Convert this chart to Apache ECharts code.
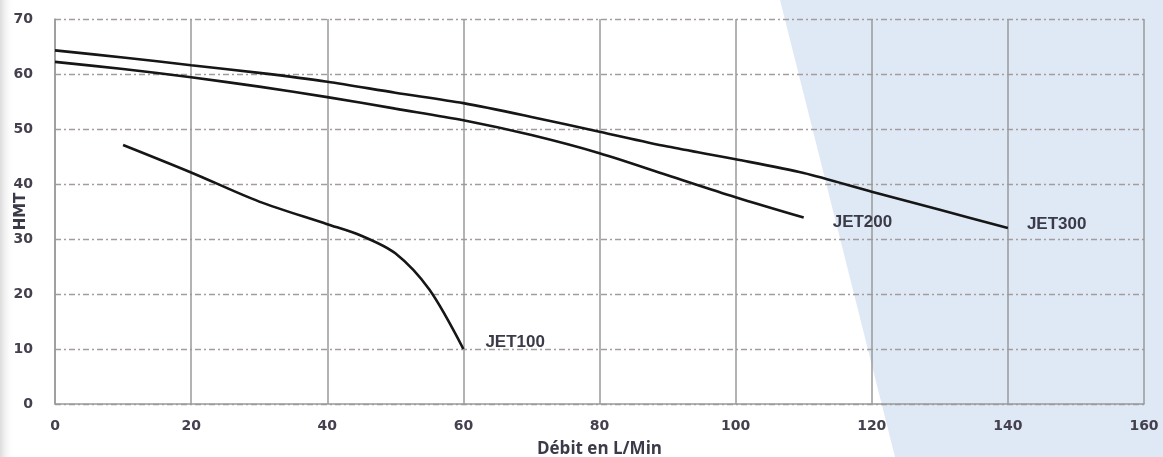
<!DOCTYPE html>
<html>
<head>
<meta charset="utf-8">
<script src="https://cdn.jsdelivr.net/npm/echarts@6/dist/echarts.min.js"></script>
<style>html,body{margin:0;padding:0;background:#fff;}#c{width:1163px;height:457px;}</style>
</head>
<body>
<div id="c"></div>
<script>
// Data
const xTicks = [0, 20, 40, 60, 80, 100, 120, 140, 160];
const yTicks = [0, 10, 20, 30, 40, 50, 60, 70];

const jet100Flow = [10, 20, 30, 40, 45, 50, 55, 60];
const jet100Head = [47.1, 42.1, 36.8, 32.7, 30.6, 27.4, 20.8, 10];

const jet200Flow = [0, 10, 20, 30, 40, 50, 60, 70, 80, 90, 100, 110];
const jet200Head = [62.2, 60.9, 59.4, 57.7, 55.8, 53.7, 51.6, 48.9, 45.6, 41.6, 37.6, 33.9];

const jet300Flow = [0, 10, 20, 30, 40, 50, 60, 70, 80, 90, 100, 110, 120, 130, 140];
const jet300Head = [64.3, 63.0, 61.6, 60.2, 58.6, 56.6, 54.7, 52.2, 49.5, 46.8, 44.5, 42.0, 38.6, 35.3, 32.0];

const seriesNames = ['JET100', 'JET200', 'JET300'];
const xAxisTitle = 'Débit en L/Min';
const yAxisTitle = 'HMT';

function pairs(xs, ys) { return xs.map((x, i) => [x, ys[i]]); }

const chart = echarts.init(document.getElementById('c'), null, { renderer: 'canvas' });

const labelStyle = { color: '#3a3a48', fontFamily: 'Liberation Sans, Arial, sans-serif', fontWeight: 'bold', fontSize: 17 };
const labelOffsets = [[22, -7], [29, 5], [19, -4]];
const allData = [pairs(jet100Flow, jet100Head), pairs(jet200Flow, jet200Head), pairs(jet300Flow, jet300Head)];

const option = {
  animation: false,
  backgroundColor: '#ffffff',
  graphic: [
    { type: 'polygon', z: -100, silent: true,
      shape: { points: [[780, 0], [1163, 0], [1163, 457], [895, 457]] },
      style: { fill: '#dfe9f5' } },
    { type: 'rect', z: -100, silent: true,
      shape: { x: 0, y: 0, width: 14, height: 457 },
      style: { fill: new echarts.graphic.LinearGradient(0, 0, 1, 0, [
        { offset: 0, color: '#dcdcdc' }, { offset: 1, color: 'rgba(255,255,255,0)' }]) } }
  ],
  grid: { left: 55, right: 19, top: 19, bottom: 53, containLabel: false, outerBoundsMode: 'none' },
  xAxis: {
    type: 'value', min: xTicks[0], max: xTicks[xTicks.length - 1], interval: 20,
    name: xAxisTitle, nameLocation: 'middle', nameGap: 37, nameMoveOverlap: false,
    nameTextStyle: { color: '#3a3a48', fontFamily: 'Open Sans, sans-serif', fontWeight: 'bold', fontSize: 17 },
    axisLine: { show: true, lineStyle: { color: '#9a9a9a', width: 1.5 } },
    axisTick: { show: false },
    axisLabel: { margin: 15, color: '#45404e', fontFamily: 'DejaVu Sans, sans-serif', fontWeight: 'bold', fontSize: 14 },
    splitLine: { show: true, lineStyle: { color: '#9a9a9a', width: 1.5, type: 'solid' } }
  },
  yAxis: {
    type: 'value', min: yTicks[0], max: yTicks[yTicks.length - 1], interval: 10,
    name: yAxisTitle, nameLocation: 'middle', nameGap: 34, nameRotate: 90, nameMoveOverlap: false,
    nameTextStyle: { color: '#3a3a48', fontFamily: 'DejaVu Sans, sans-serif', fontWeight: 'bold', fontSize: 15, verticalAlign: 'middle' },
    axisLine: { show: true, lineStyle: { color: '#9a9a9a', width: 1.5 } },
    axisTick: { show: false },
    axisLabel: { margin: 22, color: '#45404e', fontFamily: 'DejaVu Sans, sans-serif', fontWeight: 'bold', fontSize: 14 },
    splitLine: { show: true, lineStyle: { color: '#a39c9c', width: 1.3, type: [6, 3, 2, 3] } }
  },
  series: seriesNames.map((name, i) => ({
    name: name, type: 'line', data: allData[i], smooth: 0.3,
    symbol: 'none', z: 5,
    lineStyle: { color: '#161616', width: 2.6 },
    endLabel: Object.assign({ show: true, formatter: name, position: 'right', distance: 0, offset: labelOffsets[i], align: 'left' }, labelStyle)
  }))
};
chart.setOption(option);
</script>
</body>
</html>
